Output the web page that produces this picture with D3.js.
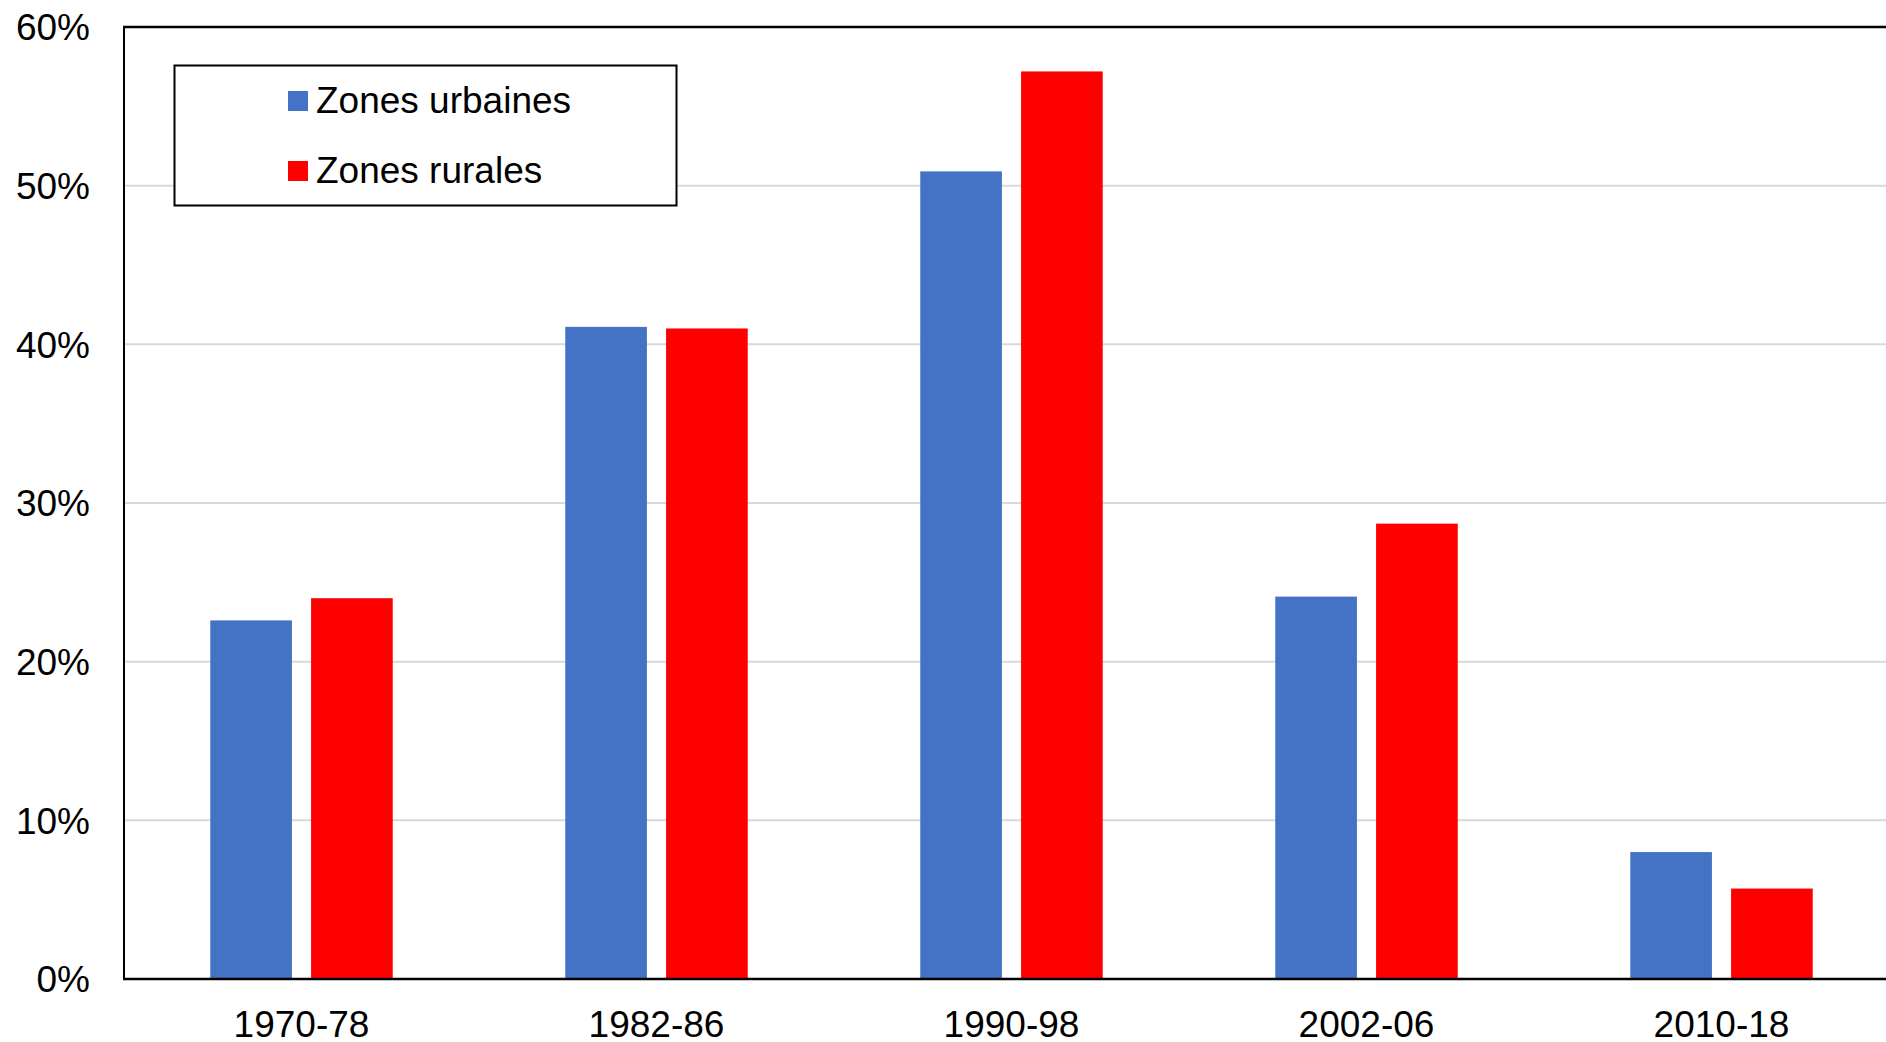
<!DOCTYPE html>
<html>
<head>
<meta charset="utf-8">
<script src="https://cdn.jsdelivr.net/npm/d3@7"></script>
<style>
  html, body { margin: 0; padding: 0; background: #fff; }
  svg { display: block; font-family: "Liberation Sans", Arial, sans-serif; }
</style>
</head>
<body>
<svg id="chart" width="1886" height="1042"></svg>
<script>
// data (percent)
const periods = ['1970-78', '1982-86', '1990-98', '2002-06', '2010-18'];
const seriesNames = ['Zones urbaines', 'Zones rurales'];
const seriesColors = ['#4472c4', '#ff0000'];
const urbaines = [22.6, 41.1, 50.9, 24.1, 8.0];
const rurales = [24.0, 41.0, 57.2, 28.7, 5.7];
const yTicks = [0, 10, 20, 30, 40, 50, 60];

const margin = {top: 27, left: 124, bottom: 63};
const width = 1886, height = 1042;
const plotRight = 1899;   // plot runs off the right edge in the original
const baseY = height - margin.bottom;
const fontSize = 37;

const svg = d3.select('#chart');

const x0 = d3.scaleBand().domain(periods)
    .range([margin.left, plotRight])
    .paddingInner(0.486).paddingOuter(0.243);
const x1 = d3.scaleBand().domain(seriesNames)
    .range([0, x0.bandwidth()])
    .paddingInner(0.19);
const y = d3.scaleLinear().domain([0, 60]).range([baseY, margin.top]);

// gridlines
svg.append('g').selectAll('line')
    .data(yTicks.filter(d => d > 0 && d < 60))
    .join('line')
    .attr('x1', margin.left).attr('x2', width)
    .attr('y1', d => y(d)).attr('y2', d => y(d))
    .attr('stroke', '#d9d9d9').attr('stroke-width', 2);

// bars
const rows = periods.map((p, i) => ({period: p, values: [urbaines[i], rurales[i]]}));
svg.append('g').selectAll('g')
    .data(rows)
    .join('g')
    .attr('transform', d => 'translate(' + x0(d.period) + ',0)')
    .selectAll('rect')
    .data(d => d.values.map((v, k) => ({name: seriesNames[k], v: v, c: seriesColors[k]})))
    .join('rect')
    .attr('x', d => x1(d.name))
    .attr('width', x1.bandwidth())
    .attr('y', d => y(d.v))
    .attr('height', d => baseY - y(d.v))
    .attr('fill', d => d.c);

// frame: left, top, bottom
svg.append('line').attr('x1', margin.left).attr('x2', margin.left)
    .attr('y1', y(60)).attr('y2', baseY)
    .attr('stroke', '#000').attr('stroke-width', 2);
svg.append('line').attr('x1', margin.left - 1).attr('x2', width)
    .attr('y1', y(60)).attr('y2', y(60))
    .attr('stroke', '#000').attr('stroke-width', 2.5);
svg.append('line').attr('x1', margin.left - 1).attr('x2', width)
    .attr('y1', baseY).attr('y2', baseY)
    .attr('stroke', '#000').attr('stroke-width', 2.5);

// y labels
svg.append('g').selectAll('text')
    .data(yTicks)
    .join('text')
    .attr('x', 90)
    .attr('y', d => y(d))
    .attr('dy', '0.36em')
    .attr('text-anchor', 'end')
    .attr('font-size', fontSize)
    .attr('fill', '#000')
    .text(d => d + '%');

// x labels
svg.append('g').selectAll('text')
    .data(periods)
    .join('text')
    .attr('x', d => x0(d) + x0.bandwidth() / 2)
    .attr('y', 1037)
    .attr('text-anchor', 'middle')
    .attr('font-size', fontSize)
    .attr('fill', '#000')
    .text(d => d);

// legend
const legend = svg.append('g');
legend.append('rect')
    .attr('x', 174.5).attr('y', 65.5)
    .attr('width', 502).attr('height', 140)
    .attr('fill', '#fff').attr('stroke', '#000').attr('stroke-width', 2);
const items = legend.selectAll('g.item')
    .data(seriesNames)
    .join('g')
    .attr('class', 'item')
    .attr('transform', (d, i) => 'translate(288,' + (91 + i * 70) + ')');
items.append('rect')
    .attr('width', 20).attr('height', 20)
    .attr('fill', (d, i) => seriesColors[i]);
items.append('text')
    .attr('x', 28).attr('y', 22)
    .attr('font-size', fontSize)
    .attr('fill', '#000')
    .text(d => d);
</script>
</body>
</html>
